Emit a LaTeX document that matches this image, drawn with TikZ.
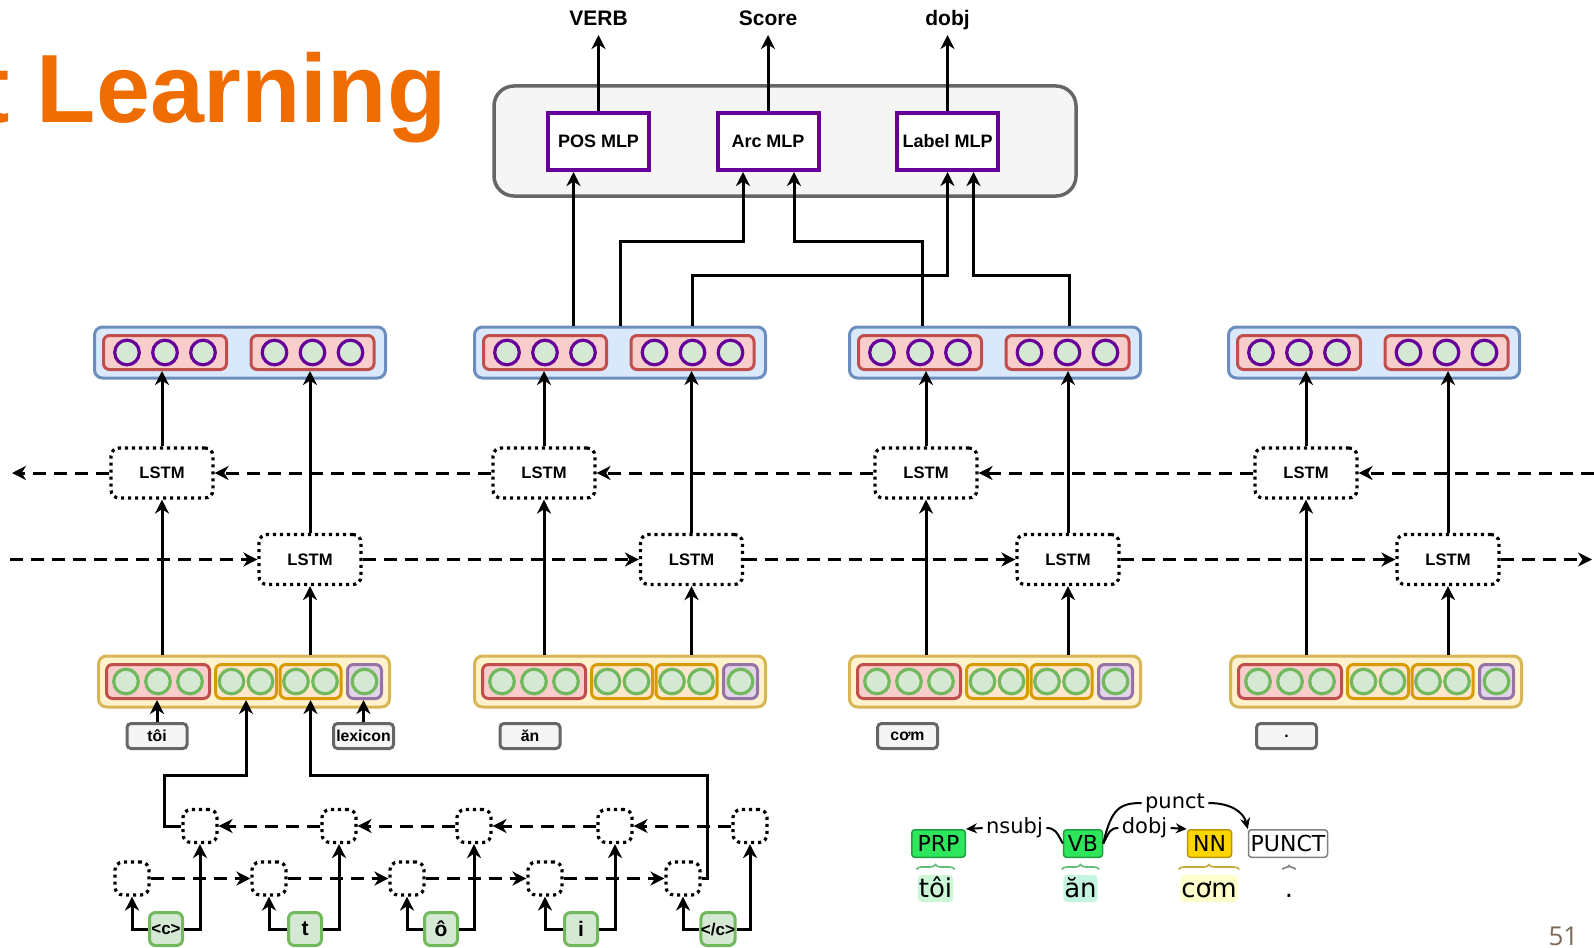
\documentclass[tikz,border=0pt]{standalone}
\usepackage{fontspec}
\setmainfont{Liberation Sans}
\newfontfamily\bratfont{DejaVu Sans}
\newfontfamily\slidefont{Open Sans}
\usepackage{tikz}
\usetikzlibrary{arrows.meta}
\usetikzlibrary{calc}
\usetikzlibrary{decorations.pathreplacing}

\definecolor{vecfill}{HTML}{DAE8FC}
\definecolor{vecdraw}{HTML}{6C8EBF}
\definecolor{redfill}{HTML}{F8CECC}
\definecolor{reddraw}{HTML}{C04E4B}
\definecolor{infill}{HTML}{FFF2CC}
\definecolor{indraw}{HTML}{D6B656}
\definecolor{orfill}{HTML}{FFE6CC}
\definecolor{ordraw}{HTML}{D79B00}
\definecolor{pufill}{HTML}{E1D5E7}
\definecolor{pudraw}{HTML}{9673A6}
\definecolor{grfill}{HTML}{D5E8D4}
\definecolor{grdraw}{HTML}{72B85C}
\definecolor{mlpdraw}{HTML}{660099}
\definecolor{paneldraw}{HTML}{666666}
\definecolor{panelfill}{HTML}{F5F5F5}
\definecolor{titleorange}{HTML}{EF6C00}
\definecolor{pagebrown}{HTML}{7A6A55}
\definecolor{taggreen}{HTML}{2EE65C}
\definecolor{taggreend}{HTML}{1E9E40}
\definecolor{tagyellow}{HTML}{FFD500}
\definecolor{tagyellowd}{HTML}{B8960A}
\definecolor{tokgreen}{HTML}{CCF7D6}
\definecolor{tokmint}{HTML}{C4F5E0}
\definecolor{tokyellow}{HTML}{FFFFCC}

\tikzset{
  >={Stealth[length=7pt,width=7pt,inset=2.2pt]},
  vecbox/.style={draw=vecdraw,fill=vecfill,line width=1.5pt,rounded corners=4pt,minimum width=145.5pt,minimum height=25.5pt},
  hidbox/.style={draw=reddraw,fill=redfill,line width=1.5pt,rounded corners=3pt,minimum width=61.5pt,minimum height=17pt},
  hidunit/.style={circle,draw=mlpdraw,fill=grfill,line width=1.6pt,minimum size=12.3pt,inner sep=0pt},
  inbox/.style={draw=indraw,fill=infill,line width=1.5pt,rounded corners=4pt,minimum width=145.5pt,minimum height=25.5pt},
  embbox/.style={line width=1.5pt,rounded corners=3pt,minimum height=17pt,inner sep=0pt},
  inunit/.style={circle,draw=grdraw,fill=grfill,line width=1.6pt,minimum size=12.3pt,inner sep=0pt},
  lstmcell/.style={draw,fill=white,line width=1.6pt,dash pattern=on 1.6pt off 1.9pt,rounded corners=4pt,minimum width=51pt,minimum height=25pt,font=\bfseries\fontsize{8.3}{10}\selectfont},
  charcell/.style={lstmcell,minimum width=17pt,minimum height=16.5pt},
  charbox/.style={draw=grdraw,fill=grfill,line width=1.5pt,rounded corners=3pt,minimum size=16.5pt,inner sep=0pt,font=\bfseries\fontsize{10.5}{12}\selectfont},
  wordlbl/.style={draw=paneldraw,fill=panelfill,line width=1.5pt,rounded corners=2pt,minimum width=30pt,minimum height=12.5pt,inner sep=0pt,font=\bfseries\fontsize{7.9}{9}\selectfont},
  mlpbox/.style={draw=mlpdraw,fill=white,line width=2pt,minimum width=50.5pt,minimum height=28.5pt,inner sep=0pt,font=\bfseries\fontsize{9}{10}\selectfont},
  outlbl/.style={inner sep=0pt,outer sep=4.5pt,text depth=0pt,anchor=south,font=\bfseries\fontsize{10.5}{12}\selectfont},
  dashline/.style={line width=1.5pt,dash pattern=on 6.5pt off 4pt},
  tagbox/.style={draw,line width=0.75pt,rounded corners=1.5pt,minimum height=13.75pt,inner xsep=1pt,inner ysep=0pt,font=\bratfont\fontsize{11}{12}\selectfont},
  token/.style={rounded corners=2pt,inner xsep=0.5pt,inner ysep=0.5pt,text height=10.5pt,text depth=2pt,anchor=base,font=\bratfont\fontsize{13}{14}\selectfont},
  deplbl/.style={inner sep=1pt,font=\bratfont\fontsize{10.5}{12}\selectfont},
  deparc/.style={line width=1pt},
  deptip/.style={-{Stealth[length=5.5pt,width=5pt]}},
  tokbrace/.style={line width=0.8pt,decorate,decoration={brace,amplitude=2.5pt}}
}

\begin{document}
\begin{tikzpicture}[x=0.5pt,y=-0.5pt,line width=1.5pt]
\useasboundingbox (0,0) rectangle (1594,947);

% title and page number
\node[anchor=base east,inner sep=0pt,text=titleorange,font=\bfseries\fontsize{48.5}{50}\selectfont] (title) at (448,123) {t Learning};
\node[anchor=base west,inner sep=0pt,text=pagebrown,font=\slidefont\fontsize{13}{15}\selectfont] (pagenum) at (1547,945) {51};

% MLP panel
\node[draw=paneldraw,fill=panelfill,line width=1.75pt,rounded corners=10pt,minimum width=291pt,minimum height=55pt] (panel) at (785,141) {};
\node[mlpbox] (pos) at (598.5,141.5) {POS MLP};
\node[mlpbox] (arc) at (768,141.5) {Arc MLP};
\node[mlpbox] (lab) at (947.5,141.5) {Label MLP};
\node[outlbl] (verb) at (598.5,35) {VERB};
\node[outlbl] (score) at (768,35) {Score};
\node[outlbl] (dobj) at (947.5,35) {dobj};
\draw[->] (pos.north) -- (verb.south);
\draw[->] (arc.north) -- (score.south);
\draw[->] (lab.north) -- (dobj.south);

% word columns
\foreach \wi/\bx/\ix/\lb/\lf in {1/240/244/162/310, 2/620/620/544/691.5, 3/995/995/926/1068, 4/1374/1376/1306/1448} {
  \node[vecbox] (b\wi) at (\bx,352.5) {};
  \node[hidbox] (rl\wi) at (\bx-75,352.5) {};
  \node[hidbox] (rr\wi) at (\bx+72.5,352.5) {};
  \foreach \kk in {1,2,3} {
    \node[hidunit] (hl\wi\kk) at (\bx-75+38*\kk-76,352.5) {};
    \node[hidunit] (hr\wi\kk) at (\bx+72.5+38*\kk-76,352.5) {};
  }
  \node[inbox] (y\wi) at (\ix,681.5) {};
  \node[embbox,draw=reddraw,fill=redfill,minimum width=51.5pt] (yr\wi) at (\ix-86,681.5) {};
  \node[embbox,draw=ordraw,fill=orfill,minimum width=30.5pt] (oa\wi) at (\ix+2,681.5) {};
  \node[embbox,draw=ordraw,fill=orfill,minimum width=30.5pt] (ob\wi) at (\ix+66.5,681.5) {};
  \node[embbox,draw=pudraw,fill=pufill,minimum width=17pt] (pu\wi) at (\ix+120.5,681.5) {};
  \foreach \kk in {1,2,3}
    \node[inunit] (ec\wi\kk) at (\ix-86+32*\kk-64,681.5) {};
  \node[inunit] (ea\wi) at (\ix+2-14.5,681.5) {};
  \node[inunit] (eb\wi) at (\ix+2+14.5,681.5) {};
  \node[inunit] (ed\wi) at (\ix+66.5-14.5,681.5) {};
  \node[inunit] (ee\wi) at (\ix+66.5+14.5,681.5) {};
  \node[inunit] (ef\wi) at (\ix+120.5,681.5) {};
  \node[lstmcell] (lb\wi) at (\lb,473) {LSTM};
  \node[lstmcell] (lf\wi) at (\lf,559.5) {LSTM};
  \draw[->] (lb\wi |- y\wi.north) -- (lb\wi.south);
  \draw[->] (lf\wi |- y\wi.north) -- (lf\wi.south);
  \draw[->] (lb\wi.north) -- (lb\wi.north |- rl\wi.south);
  \draw[->] (lf\wi.north) -- (lf\wi.north |- rr\wi.south);
}

% recurrent links
\coordinate (bin) at (1594,473);
\coordinate (bout) at (12,473);
\coordinate (fin) at (10,559.5);
\coordinate (fout) at (1592,559.5);
\draw[dashline,->] (bin) -- (lb4.east);
\draw[dashline,->] (lb1.west) -- (bout);
\draw[dashline,->] (fin) -- (lf1.west);
\draw[dashline,->] (lf4.east) -- (fout);
\foreach \pa/\pb in {1/2,2/3,3/4} {
  \draw[dashline,->] (lf\pa.east) -- (lf\pb.west);
  \draw[dashline,->] (lb\pb.west) -- (lb\pa.east);
}

% into the MLPs
\draw[->] ($(b2.north)+(-46.5,0)$) -- ($(pos.south)+(-25,0)$);
\draw[->] (b2.north) |- ($(arc.south)+(-25,69)$) -- ($(arc.south)+(-25,0)$);
\draw[->] ($(b3.north)+(-73,0)$) |- ($(arc.south)+(26,69)$) -- ($(arc.south)+(26,0)$);
\draw[->] ($(b2.north)+(72,0)$) |- ($(lab.south)+(0,103)$) -- (lab.south);
\draw[->] ($(b3.north)+(74,0)$) |- ($(lab.south)+(26,103)$) -- ($(lab.south)+(26,0)$);

% word inputs
\node[wordlbl] (wtoi) at (157,736) {tôi};
\node[wordlbl] (wlex) at (363.5,736) {lexicon};
\node[wordlbl] (wan) at (530,736) {ăn};
\node[wordlbl] (wcom) at (907.5,736) {cơm};
\node[wordlbl] (wdot) at (1286.5,736) {.};
\draw[->] (wtoi.north) -- (wtoi.north |- yr1.south);
\draw[->] (wlex.north) -- (wlex.north |- pu1.south);

% character model
\foreach \ci/\cx/\lx/\ux/\lbl in {1/166/132/200/{\fontsize{8.5}{10}\selectfont <c>}, 2/305/269/339/t, 3/441/407/474/ô, 4/581/545/615/i, 5/718/683/750/{\fontsize{8.5}{10}\selectfont </c>}} {
  \node[charbox] (ch\ci) at (\cx,929) {\lbl};
  \node[charcell] (cl\ci) at (\lx,878.5) {};
  \node[charcell] (cu\ci) at (\ux,826) {};
  \draw[->] (ch\ci.west) -| (cl\ci.south);
  \draw[->] (ch\ci.east) -| (cu\ci.south);
}
\foreach \pa/\pb in {1/2,2/3,3/4,4/5} {
  \draw[dashline,->] (cl\pa.east) -- (cl\pb.west);
  \draw[dashline,->] (cu\pb.west) -- (cu\pa.east);
}
\draw[->] (cu1.west) -| ++(-17,-51) -| (oa1.south);
\draw[->] (cl5.east) -| ++(6,-103) -| (ob1.south);

% dependency tree
\node[tagbox,fill=taggreen,draw=taggreend,minimum width=26.75pt] (prp) at (938.5,843.5) {PRP};
\node[tagbox,fill=taggreen,draw=taggreend,minimum width=19.5pt] (vb) at (1083,843.5) {VB};
\node[tagbox,fill=tagyellow,draw=tagyellowd,minimum width=22pt] (nn) at (1209.5,843.5) {NN};
\node[tagbox,fill=white,draw=gray,minimum width=39.5pt] (punc) at (1288,843.5) {PUNCT};
\node[token,fill=tokgreen] (ttoi) at (935.5,897) {tôi};
\node[token,fill=tokmint] (tan) at (1080.5,897) {ăn};
\node[token,fill=tokyellow] (tcom) at (1209,897) {cơm};
\node[token] (tdot) at (1289,897) {.};
\draw[tokbrace,draw=taggreend!70] ([yshift=2pt]ttoi.north west) -- ([yshift=2pt]ttoi.north east);
\draw[tokbrace,draw=taggreend!70] ([yshift=2pt]tan.north west) -- ([yshift=2pt]tan.north east);
\draw[tokbrace,draw=tagyellowd!80] ([yshift=2pt]tcom.north west) -- ([yshift=2pt]tcom.north east);
\draw[tokbrace,draw=gray,decoration={brace,amplitude=2pt}] ([yshift=2pt]tdot.north west) -- ([yshift=2pt]tdot.north east);
\node[deplbl] (lnsubj) at (1014.5,828) {nsubj};
\node[deplbl] (ldobj) at (1144.5,828) {dobj};
\node[deplbl] (lpunct) at (1175,803) {punct};
\draw[deparc] (vb.west) .. controls +(-6,-12) and +(8,0) .. (lnsubj.east);
\draw[deparc,deptip] (lnsubj.west) -- (prp.north east);
\draw[deparc] (vb.east) .. controls +(6,-12) and +(-8,0) .. (ldobj.west);
\draw[deparc,deptip] (ldobj.east) -- (nn.north west);
\draw[deparc] (vb.east) .. controls +(8,-35) and +(-22,0) .. (lpunct.west);
\draw[deparc,deptip] (lpunct.east) .. controls +(24,0) and +(-4,-16) .. (punc.north west);
\end{tikzpicture}
\end{document}
